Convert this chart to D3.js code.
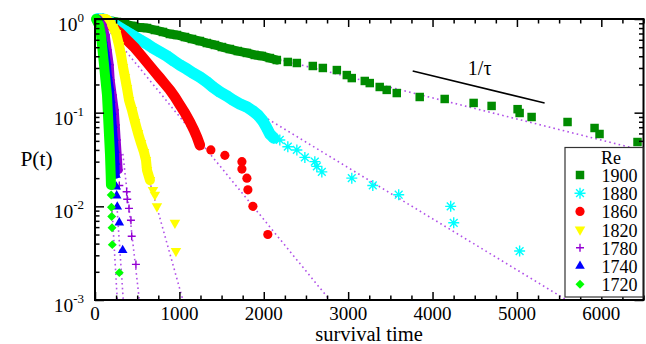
<!DOCTYPE html>
<html><head><meta charset="utf-8">
<script src="https://cdn.jsdelivr.net/npm/d3@7"></script>
<style>
body{margin:0;background:#fff}
svg{display:block}
text{font-family:"Liberation Serif","Times New Roman",serif;fill:#000}
</style></head>
<body><svg id="chart" width="646" height="344"></svg>
<script>
// ---------- data ----------
const seriesNames = ["1900","1880","1860","1820","1780","1740","1720"];
const xTicks = [0,1000,2000,3000,4000,5000,6000];
const yTicks = [1e-3,1e-2,1e-1,1];
const yTickExp = ["-3","-2","-1","0"];

const t1900 = [59,118,178,260,355,450,533,616,710,805,888,971,1066,1149,1243,1326,1421,1504,1598,1693,1800,1894,1977,2072,2155,2285,2392,2581,2700,2866,2984,3043,3197,3256,3374,3457,3576,3848,4144,4487,4700,5008,5032,5174,5600,5920,5979,6429];
const p1900 = [1.0,0.976,0.952,0.929,0.884,0.842,0.811,0.801,0.763,0.727,0.692,0.675,0.642,0.612,0.582,0.554,0.528,0.502,0.478,0.455,0.434,0.413,0.403,0.383,0.365,0.348,0.339,0.315,0.300,0.285,0.252,0.234,0.218,0.207,0.188,0.175,0.162,0.147,0.140,0.127,0.118,0.109,0.0992,0.0899,0.0795,0.0686,0.0592,0.0486];

const t1880 = [24,95,178,237,296,355,414,474,533,616,687,770,852,935,1006,1089,1160,1243,1326,1397,1480,1563,1634,1717,1800,1871,1930,1989,2036,2072,2119,2190,2285,2392,2487,2605,2629,2688,3043,3292,3599,4215,4251,5032];
const p1880 = [1.0,1.0,0.929,0.863,0.801,0.745,0.692,0.642,0.597,0.541,0.490,0.444,0.403,0.356,0.323,0.292,0.265,0.240,0.2126,0.188,0.1662,0.1507,0.1365,0.1238,0.1149,0.1042,0.0944,0.0815,0.0686,0.0592,0.0537,0.0511,0.0433,0.0400,0.0333,0.0300,0.0267,0.0233,0.0200,0.0167,0.0133,0.0100,0.00667,0.00333];

const t1860 = [95,154,201,249,296,355,414,474,533,592,651,710,770,829,888,947,1006,1066,1125,1172,1208,1243,1373,1539,1741,1741,1800,1812,1871,2048];
const p1860 = [1.0,0.929,0.842,0.763,0.709,0.627,0.554,0.490,0.423,0.365,0.315,0.2717,0.2345,0.2023,0.1746,0.1470,0.1208,0.0992,0.0795,0.0653,0.0550,0.045,0.040,0.035,0.030,0.025,0.020,0.015,0.010,0.005];

const t1820 = [59,130,178,213,249,284,308,332,355,379,403,438,474,509,545,580,604,616,651,687,710,734,947,959];
const p1820 = [1.0,1.0,0.929,0.821,0.709,0.528,0.413,0.307,0.240,0.1834,0.1365,0.1068,0.0795,0.0607,0.0475,0.0380,0.0313,0.0244,0.0191,0.0149,0.0133,0.0100,0.00667,0.00333];

const t1780 = [47,95,130,154,178,189,213,237,249,260,272,284,288,375,382,403,426,435,485];
const p1780 = [1.0,0.863,0.675,0.467,0.323,0.2233,0.1544,0.1068,0.0738,0.0511,0.0353,0.0244,0.0167,0.0143,0.0119,0.0095,0.0071,0.0048,0.0024];

const t1740 = [36,71,95,118,142,154,178,189,201,213,225,237,243,249,252,257,264,288,328];
const p1740 = [1.0,0.763,0.597,0.467,0.3475,0.2524,0.1834,0.1365,0.1017,0.0738,0.0537,0.0400,0.0297,0.0216,0.0162,0.0130,0.0099,0.0067,0.0034];

const t1720 = [12,47,71,83,95,107,118,130,142,148,154,160,166,172,178,182,186,189,192,195,198,202,205,288];
const p1720 = [1.0,0.863,0.675,0.528,0.413,0.323,0.2524,0.1974,0.1544,0.1208,0.0944,0.0738,0.0578,0.0452,0.0353,0.0276,0.0216,0.0169,0.0132,0.0098,0.0078,0.0059,0.0039,0.00196];

// exponential fit lines: start / end (t, P)
const fitStartT = [300,200,150,400,330,260,200];
const fitStartP = [0.9815,0.874,0.7825,0.1155,0.0363,0.0100,0.0100];
const fitEndT   = [6500,5589,2782,1041,525,335,264];
const fitEndP   = [0.0393,0.001,0.001,0.001,0.001,0.001,0.001];

// slope annotation
const slopeT = [3765,5328];
const slopeP = [0.2786,0.1268];
const slopeLabel = "1/τ";
const slopeLabelT = 4558, slopeLabelP = 0.2524;

// ---------- drawing ----------
const svg = d3.select("#chart");
const x = d3.scaleLinear().domain([0,6500]).range([95,643.5]);
const y = d3.scaleLog().domain([1e-3,1]).range([300,19]);

const colors = ["#008b00","#00ffff","#ff0000","#ffff00","#9400d3","#0000ff","#00ff00"];
const T = [t1900,t1880,t1860,t1820,t1780,t1740,t1720];
const P = [p1900,p1880,p1860,p1820,p1780,p1740,p1720];
// how many leading points are so tightly packed that the markers merge into a band
const denseCount = [25,31,22,19,12,14,18];
const bandWidth  = [9,11.5,10.5,10,7.5,7.5,10];

const asteriskPath = (r)=>{const d=r*0.7071;return `M${-r},0H${r}M0,${-r}V${r}M${-d},${-d}L${d},${d}M${-d},${d}L${d},${-d}`;};
const plusPath = (r)=>`M${-r},0H${r}M0,${-r}V${r}`;
const markerSpec = [
  {path:d3.symbol(d3.symbolSquare,72)(), fill:true, rot:0},
  {path:asteriskPath(5.5), fill:false, rot:0, sw:1.4},
  {path:d3.symbol(d3.symbolCircle,66)(), fill:true, rot:0},
  {path:d3.symbol(d3.symbolTriangle,48)(), fill:true, rot:180},
  {path:plusPath(4), fill:false, rot:0, sw:1.4},
  {path:d3.symbol(d3.symbolTriangle,40)(), fill:true, rot:0},
  {path:d3.symbol(d3.symbolSquare,40)(), fill:true, rot:45}
];

// fit lines (under markers)
const fitG = svg.append("g");
seriesNames.forEach((s,i)=>{
  fitG.append("line")
    .attr("x1",x(fitStartT[i])).attr("y1",y(fitStartP[i]))
    .attr("x2",x(fitEndT[i])).attr("y2",y(fitEndP[i]))
    .attr("stroke","#b050e8").attr("stroke-width",1.6)
    .attr("stroke-dasharray","1.6,3.2");
});

// markers (dense part rendered as the merged band the markers form)
const line = d3.line().x(d=>x(d[0])).y(d=>y(d[1]));
seriesNames.forEach((s,i)=>{
  const g = svg.append("g");
  const m = markerSpec[i];
  const pts = T[i].map((t,j)=>[t,P[i][j]]);
  g.append("path").attr("d",line(pts.slice(0,denseCount[i])))
    .attr("fill","none").attr("stroke",colors[i]).attr("stroke-width",bandWidth[i])
    .attr("stroke-linejoin","round").attr("stroke-linecap","round");
  g.selectAll("path.m").data(pts).join("path").attr("class","m")
    .attr("d",m.path)
    .attr("transform",d=>`translate(${x(d[0])},${y(d[1])}) rotate(${m.rot})`)
    .attr("fill",m.fill?colors[i]:"none")
    .attr("stroke",m.fill?"none":colors[i])
    .attr("stroke-width",m.sw||0);
});

// axes
const minorX = d3.range(0,6501,250).filter(v=>v%1000!==0);
const minorY = [];
[-3,-2,-1].forEach(e=>{for(let k=2;k<10;k++) minorY.push(k*Math.pow(10,e));});

function tickLines(g){g.select(".domain").remove();g.selectAll(".tick line").attr("stroke","#000").attr("stroke-width",1.5);g.selectAll(".tick text").remove();}
svg.append("g").attr("transform","translate(0,300)").call(d3.axisBottom(x).tickValues(xTicks).tickSize(-8)).call(tickLines);
svg.append("g").attr("transform","translate(0,300)").call(d3.axisBottom(x).tickValues(minorX).tickSize(-4.5)).call(tickLines);
svg.append("g").attr("transform","translate(0,19)").call(d3.axisTop(x).tickValues(xTicks).tickSize(-8)).call(tickLines);
svg.append("g").attr("transform","translate(0,19)").call(d3.axisTop(x).tickValues(minorX).tickSize(-4.5)).call(tickLines);
svg.append("g").attr("transform","translate(95,0)").call(d3.axisLeft(y).tickValues(yTicks).tickSize(-9)).call(tickLines);
svg.append("g").attr("transform","translate(95,0)").call(d3.axisLeft(y).tickValues(minorY).tickSize(-4.5)).call(tickLines);
svg.append("g").attr("transform","translate(643.5,0)").call(d3.axisRight(y).tickValues(yTicks).tickSize(-9)).call(tickLines);
svg.append("g").attr("transform","translate(643.5,0)").call(d3.axisRight(y).tickValues(minorY).tickSize(-4.5)).call(tickLines);

// frame
svg.append("rect").attr("x",95).attr("y",19).attr("width",643.5-95).attr("height",281)
  .attr("fill","none").attr("stroke","#000").attr("stroke-width",2);

// x tick labels
svg.append("g").selectAll("text").data(xTicks).join("text")
  .attr("x",d=>x(d)).attr("y",319.5).attr("text-anchor","middle")
  .attr("font-size",19).text(d=>d);

// y tick labels
const yl = svg.append("g").selectAll("text").data(yTicks).join("text")
  .attr("x",84).attr("y",d=>y(d)+12).attr("text-anchor","end").attr("font-size",19.5);
yl.append("tspan").text("10");
yl.append("tspan").attr("dy",-9).attr("font-size",13).text((d,i)=>yTickExp[i]);

// axis titles
svg.append("text").attr("x",369).attr("y",341).attr("text-anchor","middle").attr("font-size",20.5).text("survival time");
svg.append("text").attr("x",36.5).attr("y",166).attr("text-anchor","middle").attr("font-size",21.5).text("P(t)");

// slope annotation
svg.append("line").attr("x1",x(slopeT[0])).attr("y1",y(slopeP[0])).attr("x2",x(slopeT[1])).attr("y2",y(slopeP[1]))
  .attr("stroke","#000").attr("stroke-width",1.5);
svg.append("text").attr("x",x(slopeLabelT)).attr("y",y(slopeLabelP)).attr("text-anchor","middle").attr("font-size",20).text(slopeLabel);

// legend
const lg = svg.append("g");
lg.append("rect").attr("x",565).attr("y",147.5).attr("width",78).attr("height",149.5)
  .attr("fill","#fff").attr("stroke","#333").attr("stroke-width",1.2);
lg.append("text").attr("x",601).attr("y",164).attr("font-size",18).text("Re");
seriesNames.forEach((s,i)=>{
  const cy = 175 + i*18.2;
  const m = markerSpec[i];
  lg.append("path").attr("d",m.path).attr("transform",`translate(580,${cy}) rotate(${m.rot})`)
    .attr("fill",m.fill?colors[i]:"none").attr("stroke",m.fill?"none":colors[i]).attr("stroke-width",m.sw||0);
  lg.append("text").attr("x",601.5).attr("y",cy+7).attr("font-size",18).text(s);
});
</script></body></html>
